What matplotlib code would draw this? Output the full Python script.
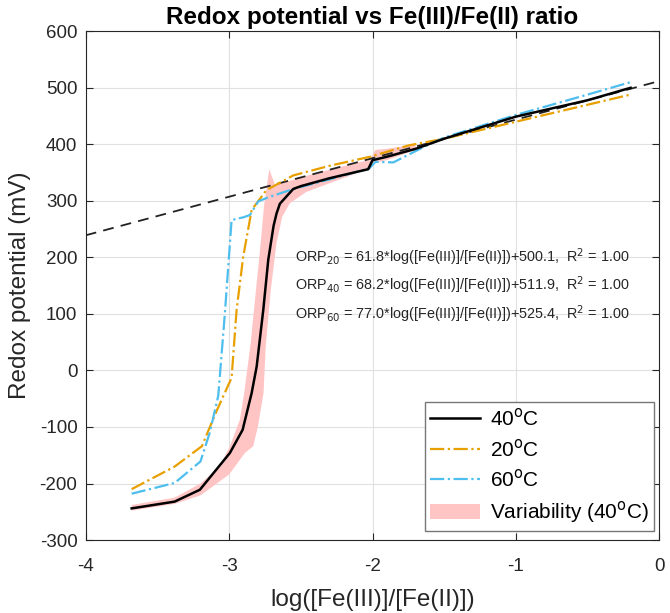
import numpy as np
import matplotlib.pyplot as plt

plt.rcParams['font.family'] = ['Liberation Sans', 'DejaVu Sans']
plt.rcParams['axes.unicode_minus'] = False

# ----- data -----
# 40 C (mean curve)
x40 = [-3.68, -3.38, -3.204, -2.995, -2.906, -2.843, -2.808, -2.762, -2.727, -2.69,
       -2.669, -2.646, -2.553, -2.50, -2.30, -2.03, -2.00, -1.90, -1.70, -1.50,
       -1.00, -0.50, -0.20]
y40 = [-244, -232, -211, -146, -105, -40, 7, 107, 196, 256,
       278, 295, 321, 326, 340, 356, 372, 378, 392, 410,
       449, 478, 500]

# 20 C
x20 = [-3.68, -3.38, -3.19, -3.088, -2.983, -2.948, -2.902, -2.843, -2.74, -2.553,
       -2.30, -2.017, -1.75, -1.50, -1.00, -0.50, -0.20]
y20 = [-210, -170, -134, -72, -13, 107, 201, 284, 319, 345,
       362, 378, 398, 410, 440, 470, 488]

# 60 C
x60 = [-3.68, -3.38, -3.20, -3.135, -3.076, -3.03, -2.983, -2.90, -2.855, -2.797,
       -2.74, -2.553, -2.30, -2.02, -1.98, -1.855, -1.645, -1.50, -1.00, -0.50, -0.20]
y60 = [-218, -199, -161, -110, -45, 100, 266, 271, 275, 299,
       305, 321, 338, 358, 369, 368, 395, 412, 452, 488, 510]

# variability band around the 40 C curve: upper/left edge and lower/right edge
band_up_x = [-3.68, -3.38, -3.20, -3.065, -2.995, -2.925, -2.895, -2.85, -2.815, -2.78,
             -2.757, -2.72, -2.68, -2.553, -2.436, -2.10, -2.02, -1.98, -1.90, -1.70]
band_up_y = [-238, -225, -200, -170, -134, -87, -40, 48, 137, 225,
             290, 356, 328, 337, 346, 368, 372, 390, 392, 400]
band_lo_x = [-3.68, -3.38, -3.20, -3.00, -2.89, -2.832, -2.80, -2.76, -2.745, -2.712,
             -2.67, -2.63, -2.576, -2.46, -2.10, -2.02, -1.98, -1.90, -1.70]
band_lo_y = [-248, -236, -221, -184, -146, -134, -100, -40, 42, 137,
             225, 272, 296, 316, 350, 356, 368, 372, 390]

# linear fits: slope, intercept
fit_labels = ['20', '40', '60']
fit_slope = [61.8, 68.2, 77.0]
fit_icpt = [500.1, 511.9, 525.4]

# ----- plot -----
fig = plt.figure(figsize=(6.70, 6.13), dpi=100)
ax = fig.add_axes([0.128, 0.119, 0.856, 0.830])

ax.fill(band_up_x + band_lo_x[::-1], band_up_y + band_lo_y[::-1],
        color='#FFC4C4', linewidth=0, label='Variability (40$^{\\mathrm{o}}$C)', zorder=2)

xl = np.array([-4, 0])
ax.plot(xl, fit_slope[1] * xl + fit_icpt[1], '--', color='#222222', lw=1.3,
        dashes=(6, 4), zorder=3)

ax.plot(x40, y40, '-', color='black', lw=1.8, label='40$^{\\mathrm{o}}$C', zorder=5)
ax.plot(x20, y20, '-.', color='#E8A000', lw=1.6, label='20$^{\\mathrm{o}}$C', zorder=4)
ax.plot(x60, y60, '-.', color='#4DBEEE', lw=1.6, label='60$^{\\mathrm{o}}$C', zorder=4)

for i, t in enumerate(fit_labels):
    ax.text(-2.54, 200 - 50 * i,
            'ORP$_{%s}$ = %.1f*log([Fe(III)]/[Fe(II)])+%.1f,  R$^2$ = 1.00'
            % (t, fit_slope[i], fit_icpt[i]),
            fontsize=10.4, color='#262626', va='center', ha='left', zorder=6)

ax.set_xlim(-4, 0)
ax.set_ylim(-300, 600)
ax.set_xticks([-4, -3, -2, -1, 0])
ax.set_yticks(np.arange(-300, 601, 100))
ax.grid(True, color='#e0e0e0', lw=0.8)
ax.set_axisbelow(True)
ax.tick_params(direction='in', top=True, right=True, labelsize=13.5,
               colors='#262626', length=5, pad=6)
ax.tick_params(axis='x', pad=13)
for s in ax.spines.values():
    s.set_color('#262626')
    s.set_linewidth(0.8)

ax.set_title('Redox potential vs Fe(III)/Fe(II) ratio', fontsize=17.5,
             fontweight='bold', pad=5)
ax.set_xlabel('log([Fe(III)]/[Fe(II)])', fontsize=17.5, color='#262626', labelpad=10)
ax.set_ylabel('Redox potential (mV)', fontsize=17.5, color='#262626', labelpad=6)

h, l = ax.get_legend_handles_labels()
order = [1, 2, 3, 0]
leg = ax.legend([h[i] for i in order], [l[i] for i in order], loc='lower right',
                bbox_to_anchor=(1 - 5.5 / 573, 9.4 / 509), borderaxespad=0,
                fontsize=15, fancybox=False, framealpha=1, edgecolor='#777777',
                handlelength=2.4, handletextpad=0.45, borderpad=0.25,
                labelspacing=0.42)
leg.get_frame().set_linewidth(1.0)

plt.savefig('out.png', dpi=100)
